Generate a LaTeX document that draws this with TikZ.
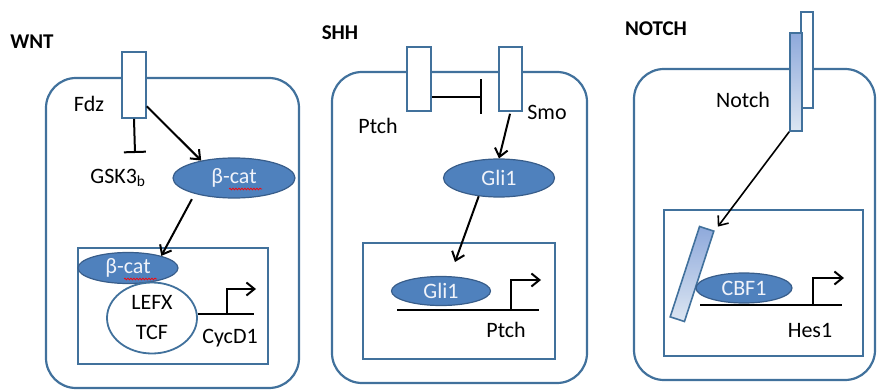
\documentclass[tikz,border=0pt]{standalone}
\usepackage{fontspec}
\setmainfont{Carlito}
\usetikzlibrary{shapes.geometric, arrows.meta, decorations.pathmorphing}
\definecolor{cellline}{HTML}{41719C}
\definecolor{protfill}{HTML}{4F81BD}
\definecolor{protline}{HTML}{385D8A}
\definecolor{prottext}{HTML}{F0F3FA}
\definecolor{notchdark}{HTML}{8EA9DB}
\definecolor{notchlight}{HTML}{DCE6F2}

\begin{document}
\begin{tikzpicture}[
  x=1pt, y=-1pt,
  font=\fontsize{22}{25}\selectfont,
  title/.style={font=\fontsize{21}{24}\selectfont\bfseries},
  cell/.style={draw=cellline, line width=2.2pt, rounded corners=30pt, inner sep=0pt},
  nucleus/.style={draw=cellline, line width=2.2pt, inner sep=0pt},
  rcpt/.style={draw=cellline, line width=1.6pt, fill=white, minimum width=24pt, minimum height=64pt, inner sep=0pt},
  notchbar/.style={draw=cellline, line width=1.6pt, top color=notchdark, bottom color=notchlight, minimum width=12pt, inner sep=0pt},
  prot/.style={ellipse, draw=protline, line width=1.2pt, fill=protfill, text=prottext, inner sep=0pt},
  act/.style={-{Straight Barb[length=8pt,width=13pt]}, line width=2pt},
  inh/.style={line width=2pt},
  gene/.style={line width=2.2pt},
  spell/.style={draw=red, line width=0.7pt, decorate, decoration={snake, amplitude=0.9pt, segment length=3pt}}
]
  \useasboundingbox (0,0) rectangle (877,390);

  % WNT
  \node[title] (wnt) at (32,42) {WNT};
  \node[cell, minimum width=253pt, minimum height=310pt] (cellW) at (172.5,233) {};
  \node[nucleus, minimum width=190pt, minimum height=116pt] (nucW) at (173,306) {};
  \node[rcpt, minimum height=66pt] (fdz) at (134,85) {};
  \node (fdzlbl) at (89,104) {Fdz};
  \node (gsk) at (118,178) {GSK3\textsubscript{b}};
  \coordinate (gskbar) at (135,153);
  \node[prot, minimum width=122pt, minimum height=40pt] (bcatA) at (234,178) {β-cat};
  \node[prot, minimum width=100pt, minimum height=31pt] (bcatB) at (128,268) {β-cat};
  \node[ellipse, draw=cellline, line width=1.8pt, fill=white, minimum width=90pt, minimum height=71pt,
        inner sep=0pt, align=center, font=\fontsize{22}{30}\selectfont] (lef) at (152,318) {LEFX\\TCF};
  \node (cycd) at (230,338) {CycD1};
  \coordinate (geneW) at (254,314);
  \coordinate (tssW) at (227,314);
  \coordinate (tssWend) at (256,289);
  \draw[inh, -{Bar[width=22pt]}] (fdz.south) -- (gskbar);
  \draw[act] (fdz.-59) -- (bcatA.152);
  \draw[act, shorten <=6pt] (bcatA.202) -- (bcatB.20);
  \draw[gene] (lef.east |- geneW) -- (geneW);
  \draw[gene, act] (tssW) |- (tssWend);
  \draw[spell] ([shift={(-5pt,-11pt)}]bcatA.center) -- ([shift={(28pt,-11pt)}]bcatA.center);
  \draw[spell] ([shift={(-4pt,-11pt)}]bcatB.center) -- ([shift={(29pt,-11pt)}]bcatB.center);

  % SHH
  \node[title] (shh) at (340,33) {SHH};
  \node[cell, minimum width=255pt, minimum height=311pt] (cellS) at (459.5,227.5) {};
  \node[nucleus, minimum width=192pt, minimum height=116pt] (nucS) at (459,301) {};
  \node[rcpt] (ptchr) at (419,79) {};
  \node[rcpt, minimum width=23pt] (smo) at (510.5,79) {};
  \node (ptchlbl) at (378,126) {Ptch};
  \node (smolbl) at (547,112) {Smo};
  \coordinate (smobar) at (482,97);
  \node[prot, minimum width=111pt, minimum height=38pt] (gliA) at (499,178) {Gli1};
  \node[prot, minimum width=99pt, minimum height=29pt] (gliB) at (441,291) {Gli1};
  \node (ptchgene) at (506,330) {Ptch};
  \coordinate (gliin) at (455,262);
  \coordinate (geneSa) at (397,310);
  \coordinate (geneSb) at (539,310);
  \coordinate (tssS) at (511,310);
  \coordinate (tssSend) at (541,280);
  \draw[inh, -{Bar[width=35pt]}] (ptchr.east |- smobar) -- (smobar);
  \draw[act, shorten <=2pt] (smo.south) -- (gliA.north);
  \draw[act] (gliA.-138) -- (gliin);
  \draw[gene] (geneSa) -- (geneSb);
  \draw[gene, act] (tssS) |- (tssSend);

  % NOTCH
  \node[title] (notchttl) at (656,29) {NOTCH};
  \node[cell, minimum width=241pt, minimum height=311pt] (cellN) at (754.5,224.5) {};
  \node[nucleus, minimum width=199pt, minimum height=146pt] (nucN) at (763.5,283) {};
  \node[rcpt, minimum width=12pt, minimum height=96pt] (lig) at (807,60) {};
  \node[notchbar, minimum height=98pt] (notch) at (796,82) {};
  \node (notchlbl) at (743,100) {Notch};
  \node[notchbar, minimum width=15pt, minimum height=95pt, rotate=-18] (nicd) at (692,274) {};
  \node[prot, minimum width=96pt, minimum height=30pt] (cbf) at (744,288) {CBF1};
  \node (hes) at (810,330) {Hes1};
  \coordinate (geneNa) at (700,305);
  \coordinate (geneNb) at (842,305);
  \coordinate (tssN) at (813,305);
  \coordinate (tssNend) at (844,278);
  \draw[act, line width=1.6pt, shorten >=5pt] (notch.south west) -- (nicd.north east);
  \draw[gene] (geneNa) -- (geneNb);
  \draw[gene, act] (tssN) |- (tssNend);
\end{tikzpicture}
\end{document}
